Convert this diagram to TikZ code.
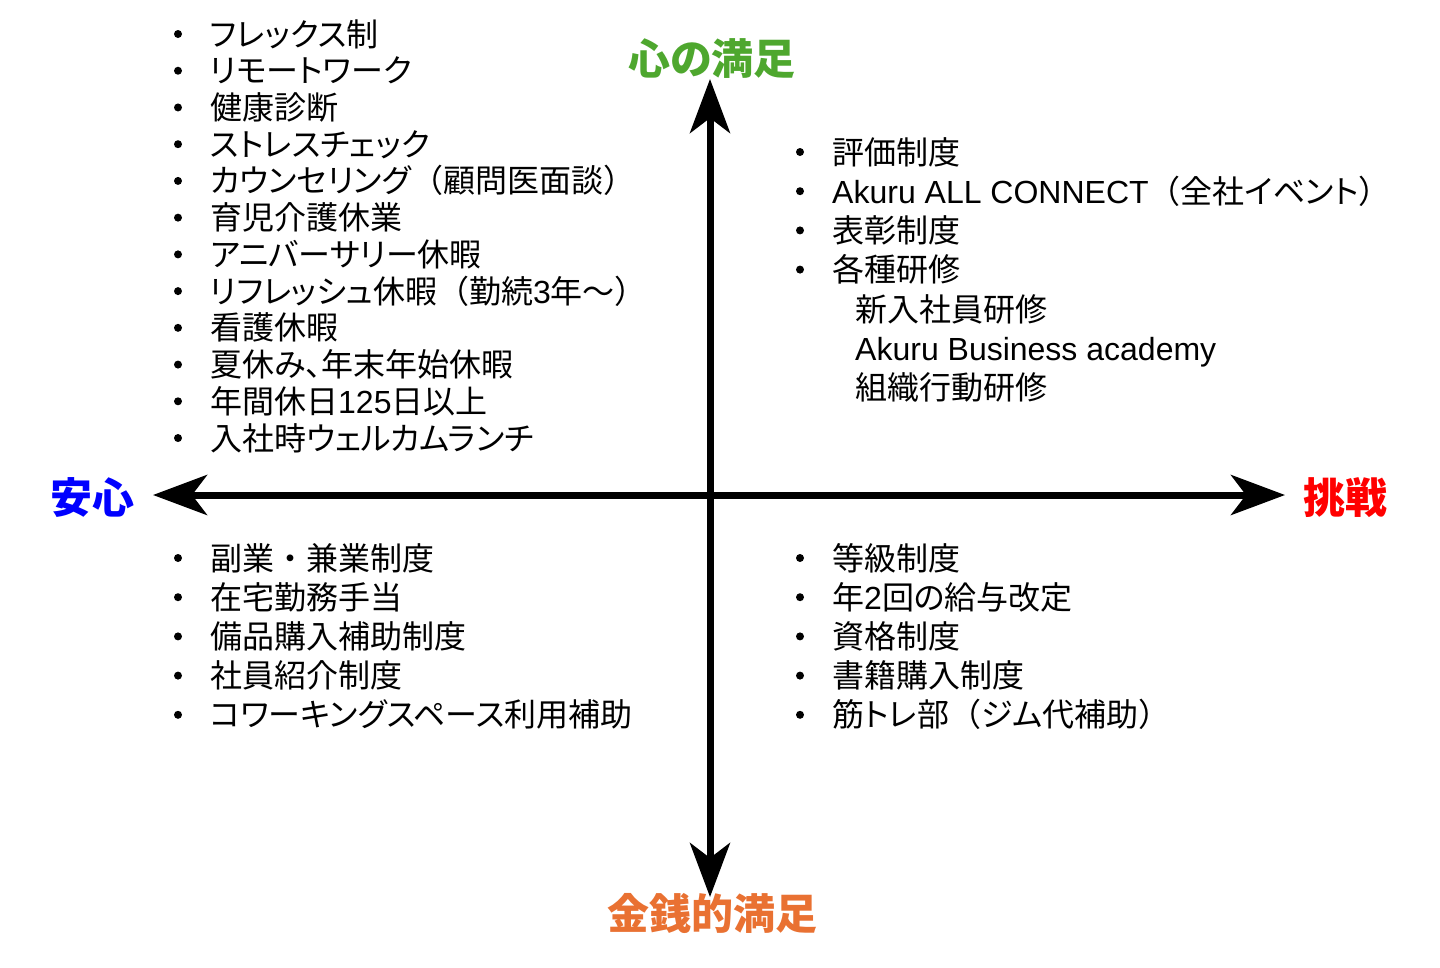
\documentclass[tikz,border=0pt]{standalone}
\usepackage{fontspec}
\setmainfont[RawFeature=+palt]{Noto Sans CJK JP}
\newfontfamily\fw{Noto Sans CJK JP}
\newfontfamily\lat{Liberation Sans}
\newcommand{\lp}{{\fw （}}
\newcommand{\rp}{{\fw ）}}
\usetikzlibrary{arrows.meta}
\definecolor{kgreen}{HTML}{4EA72E}
\definecolor{korange}{HTML}{E97132}
\begin{document}
\begin{tikzpicture}[x=1pt,y=-1pt,
  item/.style={anchor=base west,inner sep=0pt,font=\fontsize{32}{36}\selectfont},
  axislabel/.style={inner sep=0pt,font=\fontsize{42}{48}\selectfont\bfseries},
  axis/.style={line width=7pt,-{Stealth[length=54pt,width=40pt,inset=15pt]}}]
\useasboundingbox[fill=white] (0,0) rectangle (1440,967);

% axes
\coordinate (o) at (710,495);
\coordinate (top) at (710,79);
\coordinate (bot) at (710,897);
\coordinate (lft) at (153,495);
\coordinate (rgt) at (1285,495);
\draw[axis] (o) -- (top);
\draw[axis] (o) -- (bot);
\draw[axis] (o) -- (lft);
\draw[axis] (o) -- (rgt);

\node[axislabel,text=kgreen] (heart) at (712,59) {心の満足};
\node[axislabel,text=korange] (money) at (712,913) {金銭的満足};
\node[axislabel,text=blue] (anshin) at (92,498) {安心};
\node[axislabel,text=red] (chosen) at (1345,498) {挑戦};

% upper left
\foreach \t [count=\i] in {{フレックス制},{リモートワーク},{健康診断},{ストレスチェック},
  {カウンセリング\lp 顧問医面談\rp},{育児介護休業},{アニバーサリー休暇},
  {リフレッシュ休暇\lp 勤続{\lat 3}年～\rp},{看護休暇},{夏休み、年末年始休暇},
  {年間休日{\lat 125}日以上},{入社時ウェルカムランチ}}{
  \node[item] (ul\i) at (210,{46+36.73*(\i-1)}) {\t};
  \fill (178,{34+36.73*(\i-1)}) circle (4);
}

% upper right
\foreach \t [count=\i] in {{評価制度},{{\lat Akuru ALL CONNECT}\lp 全社イベント\rp},{表彰制度},{各種研修}}{
  \node[item] (ur\i) at (832,{164+39.2*(\i-1)}) {\t};
  \fill (800,{152+39.2*(\i-1)}) circle (4);
}
\foreach \t [count=\i] in {{新入社員研修},{{\lat Akuru Business academy}},{組織行動研修}}{
  \node[item] (sub\i) at (855,{321+39.2*(\i-1)}) {\t};
}

% lower left
\foreach \t [count=\i] in {{副業{\fw ・}兼業制度},{在宅勤務手当},{備品購入補助制度},{社員紹介制度},{コワーキングスペース利用補助}}{
  \node[item] (ll\i) at (210,{570+39.2*(\i-1)}) {\t};
  \fill (178,{558+39.2*(\i-1)}) circle (4);
}

% lower right
\foreach \t [count=\i] in {{等級制度},{年{\lat 2}回の給与改定},{資格制度},{書籍購入制度},{筋トレ部\lp ジム代補助\rp}}{
  \node[item] (lr\i) at (832,{570+39.2*(\i-1)}) {\t};
  \fill (800,{558+39.2*(\i-1)}) circle (4);
}
\end{tikzpicture}
\end{document}
